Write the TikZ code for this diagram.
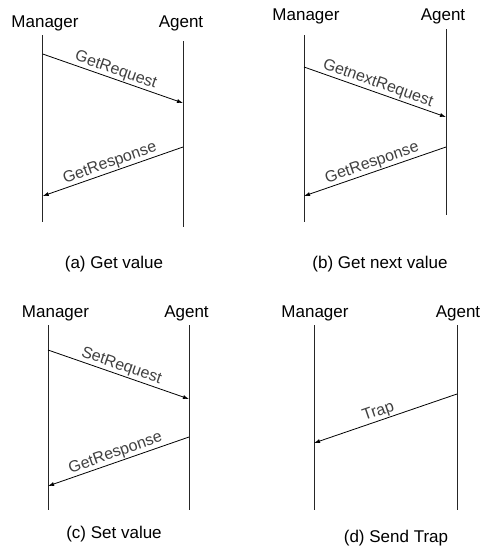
\documentclass[tikz,border=0pt]{standalone}
\usepackage{fontspec}
\setmainfont{Liberation Sans}
\usetikzlibrary{arrows.meta,positioning}

\tikzset{
  actor/.style={anchor=base, inner sep=0pt, font=\fontsize{17}{20}\selectfont},
  caption/.style={anchor=base, inner sep=0pt, font=\fontsize{17}{20}\selectfont},
  lifeline/.style={draw=black!85, line width=0.8pt},
  msg/.style={draw=black, line width=0.8pt, -{Latex[length=6pt,width=4pt]}},
  msglabel/.style={sloped, above, inner sep=1pt, text=black!75, font=\fontsize{16}{18}\selectfont},
}

\begin{document}
\begin{tikzpicture}[x=1pt,y=-1pt]
    \useasboundingbox (0,0) rectangle (485,550);

    % (a) Get value
    \node[actor] (mgrA) at (45,27) {Manager};
    \node[actor] (agtA) at (181,27) {Agent};
    \coordinate (mgrAtop) at (42.7,35);
    \coordinate (mgrAbot) at (42.7,222);
    \coordinate (agtAtop) at (183,41);
    \coordinate (agtAbot) at (183,227);
    \draw[lifeline] (mgrAtop) -- (mgrAbot);
    \draw[lifeline] (agtAtop) -- (agtAbot);
    \coordinate (reqAfrom) at (42.7,54);
    \coordinate (reqAto) at (183,103);
    \coordinate (rspAfrom) at (183,147);
    \coordinate (rspAto) at (42.7,196);
    \draw[msg] (reqAfrom) -- node[msglabel] {GetRequest} (reqAto);
    \draw[msg] (rspAfrom) -- node[msglabel] {GetResponse} (rspAto);
    \node[caption] (capA) at (114,268) {(a) Get value};

    % (b) Get next value
    \node[actor] (mgrB) at (306,20) {Manager};
    \node[actor] (agtB) at (443,20) {Agent};
    \coordinate (mgrBtop) at (304,35);
    \coordinate (mgrBbot) at (304,222);
    \coordinate (agtBtop) at (446,29);
    \coordinate (agtBbot) at (446,215);
    \draw[lifeline] (mgrBtop) -- (mgrBbot);
    \draw[lifeline] (agtBtop) -- (agtBbot);
    \coordinate (reqBfrom) at (304,67);
    \coordinate (reqBto) at (446,117);
    \coordinate (rspBfrom) at (446,147);
    \coordinate (rspBto) at (304,196);
    \draw[msg] (reqBfrom) -- node[msglabel] {GetnextRequest} (reqBto);
    \draw[msg] (rspBfrom) -- node[msglabel] {GetResponse} (rspBto);
    \node[caption] (capB) at (380,268) {(b) Get next value};

    % (c) Set value
    \node[actor] (mgrC) at (55.5,317) {Manager};
    \node[actor] (agtC) at (186.5,317) {Agent};
    \coordinate (mgrCtop) at (48,325);
    \coordinate (mgrCbot) at (48,510);
    \coordinate (agtCtop) at (189,325);
    \coordinate (agtCbot) at (189,510);
    \draw[lifeline] (mgrCtop) -- (mgrCbot);
    \draw[lifeline] (agtCtop) -- (agtCbot);
    \coordinate (reqCfrom) at (48,350);
    \coordinate (reqCto) at (189,399);
    \coordinate (rspCfrom) at (189,437);
    \coordinate (rspCto) at (48,486);
    \draw[msg] (reqCfrom) -- node[msglabel] {SetRequest} (reqCto);
    \draw[msg] (rspCfrom) -- node[msglabel] {GetResponse} (rspCto);
    \node[caption] (capC) at (114,538) {(c) Set value};

    % (d) Send Trap
    \node[actor] (mgrD) at (315,317) {Manager};
    \node[actor] (agtD) at (458,317) {Agent};
    \coordinate (mgrDtop) at (314,325);
    \coordinate (mgrDbot) at (314,510);
    \coordinate (agtDtop) at (457,325);
    \coordinate (agtDbot) at (457,510);
    \draw[lifeline] (mgrDtop) -- (mgrDbot);
    \draw[lifeline] (agtDtop) -- (agtDbot);
    \coordinate (trapDfrom) at (457,394);
    \coordinate (trapDto) at (314,443);
    \draw[msg] (trapDfrom) -- node[msglabel, pos=0.53] {Trap} (trapDto);
    \node[caption] (capD) at (396,542) {(d) Send Trap};
\end{tikzpicture}
\end{document}
